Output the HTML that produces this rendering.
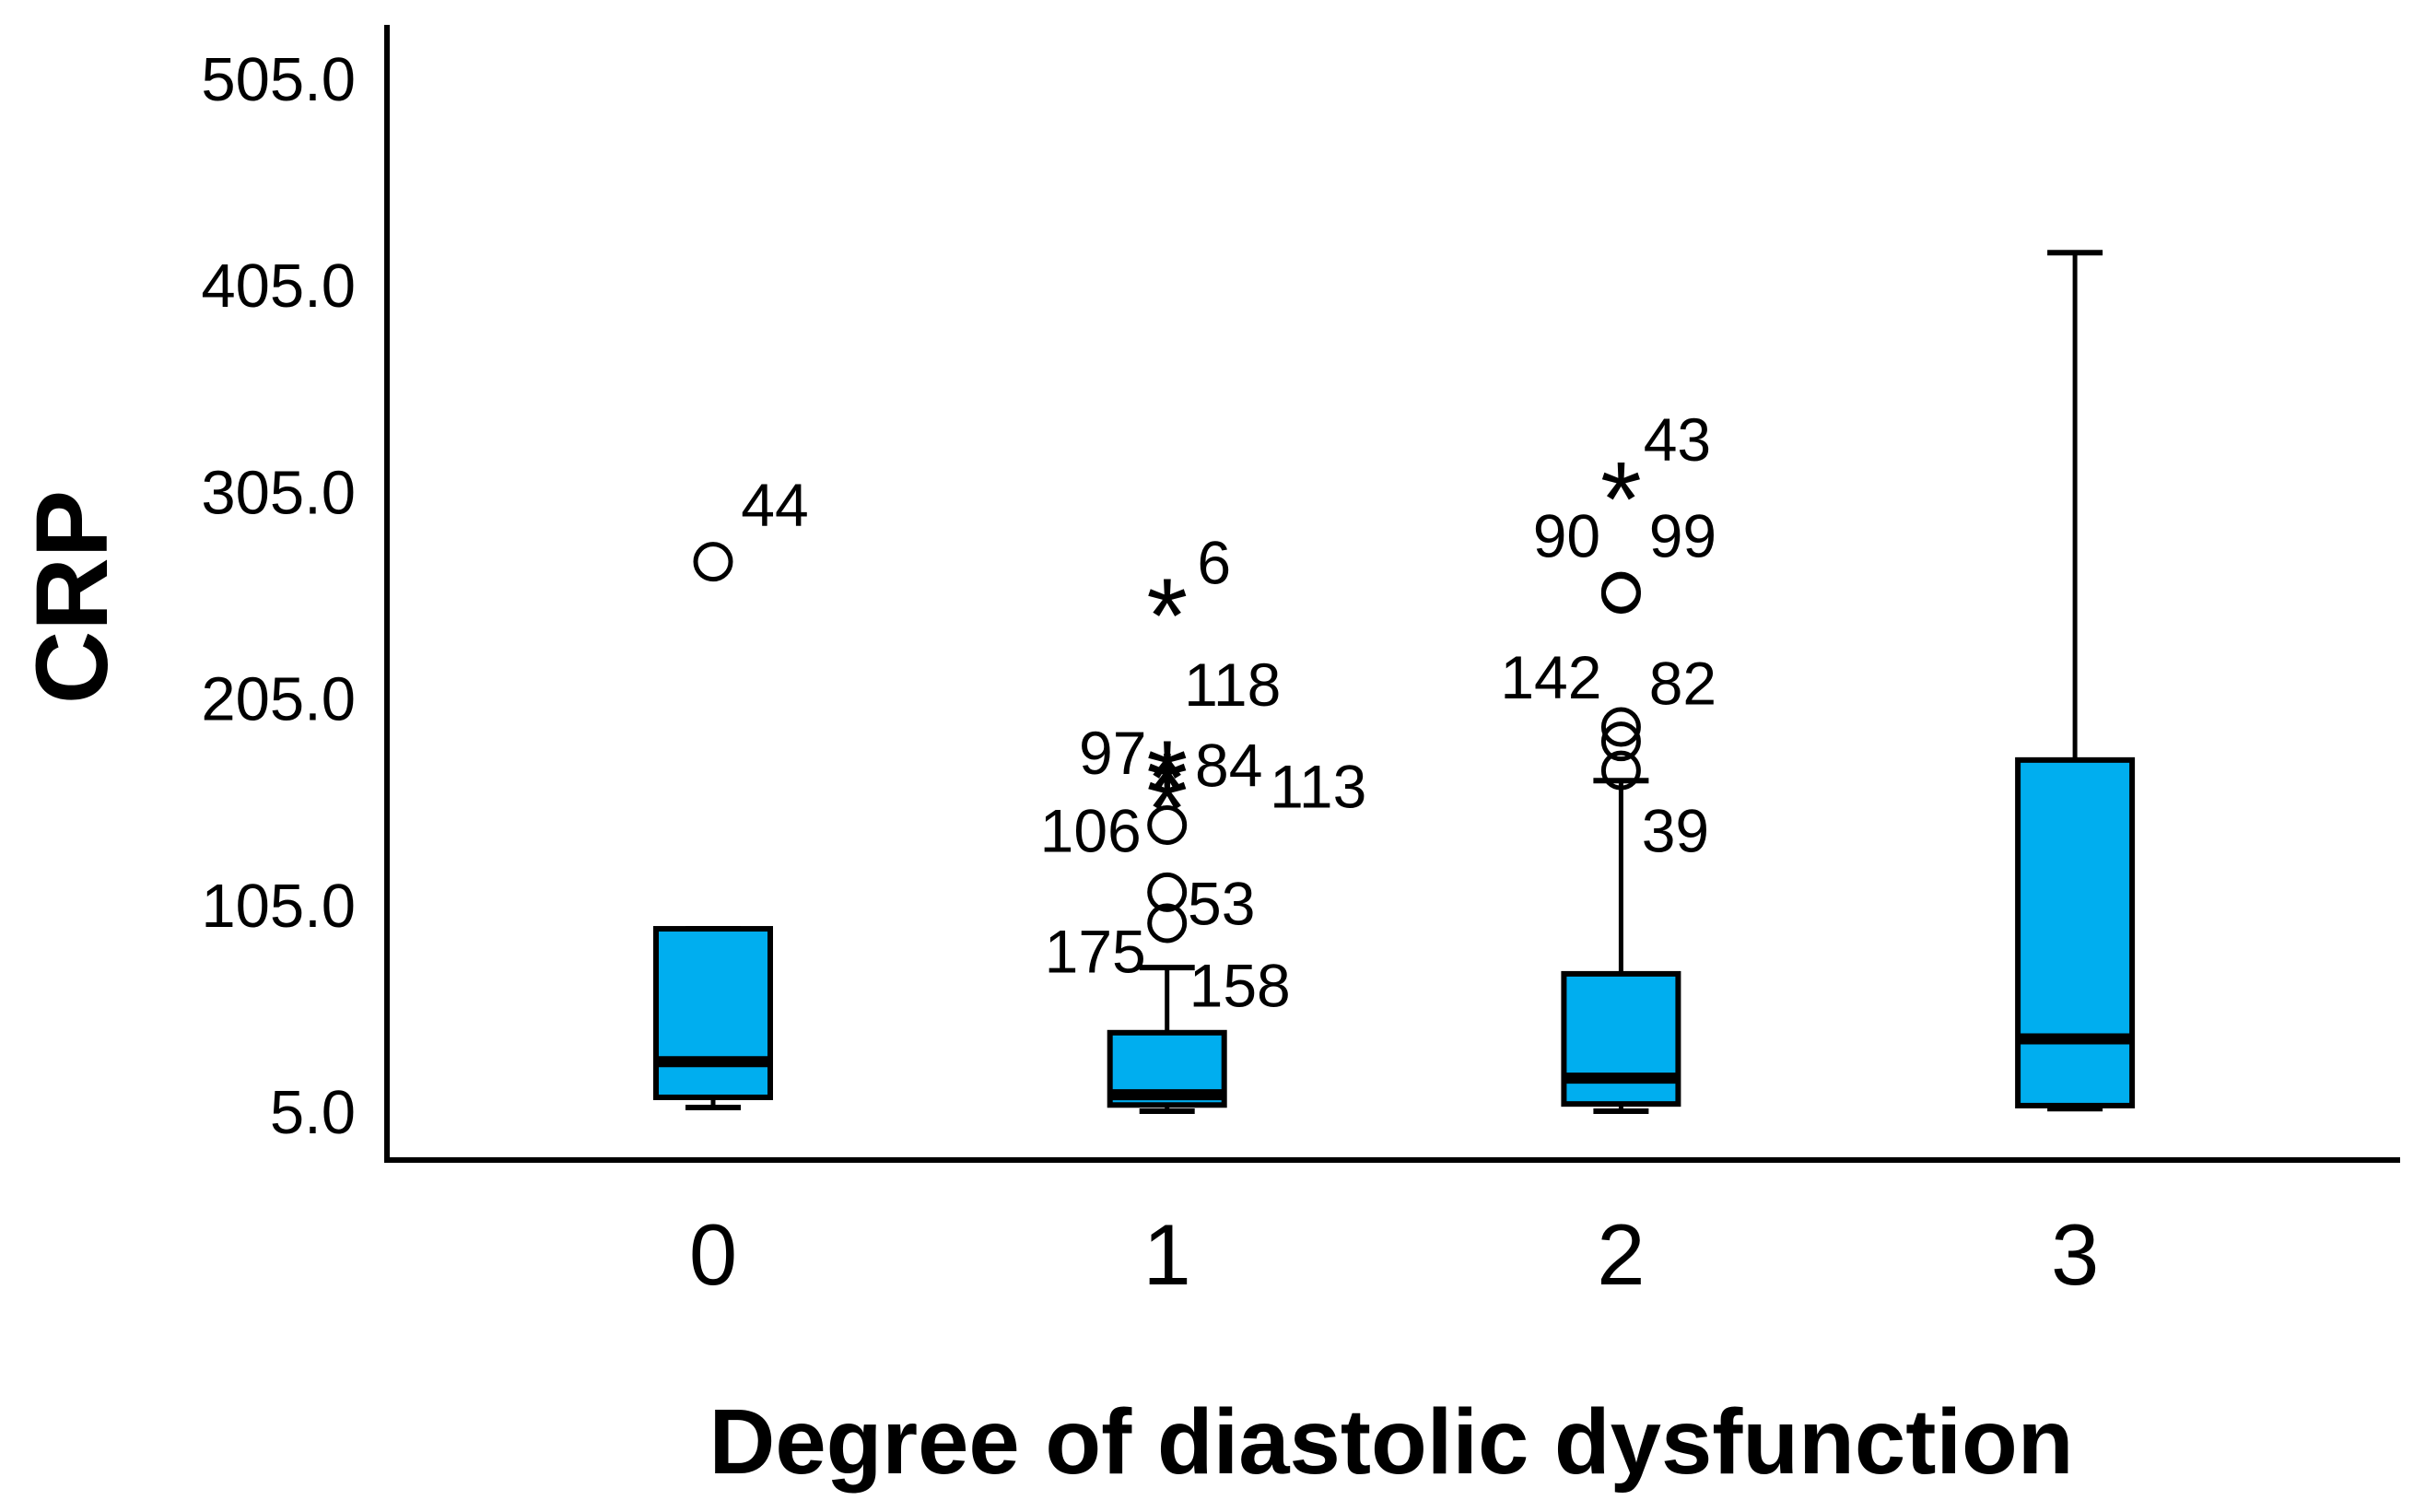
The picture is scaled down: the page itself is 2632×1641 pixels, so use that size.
<!DOCTYPE html>
<html><head><meta charset="utf-8"><style>
html,body{margin:0;padding:0;background:#fff;}
svg{display:block;font-family:"Liberation Sans",Arial,sans-serif;}
</style></head><body>
<svg id="chart" width="2632" height="1641" viewBox="0 0 2632 1641" xmlns="http://www.w3.org/2000/svg">
<g id="axes"></g>
<g id="plot"></g>
<text transform="translate(116,648) rotate(-90)" text-anchor="middle" font-weight="bold" font-size="110" fill="#000">CRP</text>
<text x="1510" y="1599" text-anchor="middle" font-weight="bold" font-size="100" textLength="1481" lengthAdjust="spacingAndGlyphs" fill="#000">Degree of diastolic dysfunction</text>
</svg>
<script>
const categories = ["0","1","2","3"];
const q1 = [11.7, 8, 8.5, 7.7];
const medians = [29, 13, 21, 40];
const q3 = [93.3, 43, 71.5, 175];
const whiskerLow = [6.8, 5, 5, 6.2];
const whiskerHigh = [93.3, 74.5, 165, 420.6];
const yTicks = [5, 105, 205, 305, 405, 505];
const yTickLabels = ["5.0","105.0","205.0","305.0","405.0","505.0"];
// outliers: category index, value, type (o=circle, s=star)
const outlierCat = [0, 1,1,1,1,1,1,1, 2,2,2,2,2,2];
const outlierVal = [271, 96,111,143.5,155,164,170,248.6, 170,184,191,255.4,256.5,305];
const outlierType = ["o", "o","o","o","s","s","s","s", "o","o","o","o","o","s"];
// case labels: category index, value (vertical position), horizontal offset in px
const labelCat = [0, 1,1,1,1,1,1,1,1,1, 2,2,2,2,2,2];
const labelText = ["44", "6","118","97","84","113","106","53","175","158", "43","90","99","142","82","39"];
const labelVal = [299, 271,212,179,173,162.6,141.3,106,82.8,66.3, 330.5,284,284,215.6,212.6,141.3];
const labelDx = [67, 51,71,-59,67,164,-83,59,-78,79, 61,-59,67,-76,67,59];

const NS = "http://www.w3.org/2000/svg";
function y(v){ return 1206 - (v - 5) * 2.242; }
function x(i){ return 774 + i * 492.7; }
function mk(parent, tag, attrs){
  const el = document.createElementNS(NS, tag);
  for (const k in attrs) el.setAttribute(k, attrs[k]);
  parent.appendChild(el);
  return el;
}
const axes = document.getElementById('axes');
const plot = document.getElementById('plot');

let yl = mk(axes, 'line', {x1:420, y1:27, x2:420, y2:1262, stroke:'#000', 'stroke-width':6});


let xl = mk(axes, 'line', {x1:417, y1:1259, x2:2605, y2:1259, stroke:'#000', 'stroke-width':6});



yTicks.forEach((t, i) => {
  const el = mk(axes, 'text', {x:386, y:y(t) + 24, 'text-anchor':'end', 'font-size':67, fill:'#000'});
  el.textContent = yTickLabels[i];
  
  
});
categories.forEach((c, i) => {
  const el = mk(axes, 'text', {x:x(i), y:1394, 'text-anchor':'middle', 'font-size':94, fill:'#000'});
  el.textContent = c;
  
  
});

const bw = 124, cw = 60;
categories.forEach((c, i) => {
  const g = mk(plot, 'g', {});
  
  
  const cx = x(i);
  if (whiskerHigh[i] > q3[i] + 0.5) {
    mk(g, 'line', {x1:cx, y1:y(whiskerHigh[i]), x2:cx, y2:y(q3[i]), stroke:'#000', 'stroke-width':5});
  }
  const capH = mk(g, 'line', {x1:cx - cw/2, y1:y(whiskerHigh[i]), x2:cx + cw/2, y2:y(whiskerHigh[i]), stroke:'#000', 'stroke-width':6});
  
  
  mk(g, 'line', {x1:cx, y1:y(q1[i]), x2:cx, y2:y(whiskerLow[i]), stroke:'#000', 'stroke-width':5});
  const capL = mk(g, 'line', {x1:cx - cw/2, y1:y(whiskerLow[i]), x2:cx + cw/2, y2:y(whiskerLow[i]), stroke:'#000', 'stroke-width':6});
  
  
  const box = mk(g, 'rect', {x:cx - bw/2, y:y(q3[i]), width:bw, height:y(q1[i]) - y(q3[i]), fill:'#00aeef', stroke:'#000', 'stroke-width':6});
  
  
  const med = mk(g, 'line', {x1:cx - bw/2, y1:y(medians[i]), x2:cx + bw/2, y2:y(medians[i]), stroke:'#000', 'stroke-width':12});
  
  
});

outlierVal.forEach((v, k) => {
  const cx = x(outlierCat[k]), cy = y(v);
  let el;
  if (outlierType[k] === 'o') {
    el = mk(plot, 'circle', {cx:cx, cy:cy, r:19, fill:'none', stroke:'#000', 'stroke-width':5});
    
  } else {
    el = mk(plot, 'text', {x:cx, y:cy + 48, 'text-anchor':'middle', 'font-size':115, fill:'#000'});
    el.textContent = '*';
    
  }
  
});

labelText.forEach((t, k) => {
  const el = mk(plot, 'text', {x:x(labelCat[k]) + labelDx[k], y:y(labelVal[k]) + 24, 'text-anchor':'middle', 'font-size':66, fill:'#000'});
  el.textContent = t;
  
  
});
</script>
</body></html>
